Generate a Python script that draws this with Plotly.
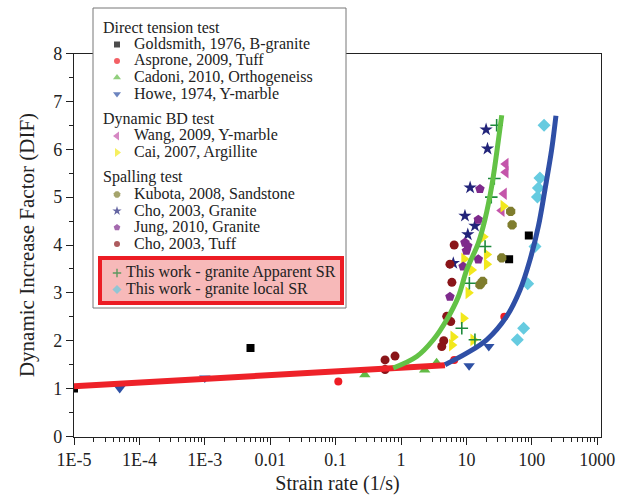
import plotly.graph_objects as go

# ---------------- data ----------------
goldsmith_x = [1e-5, 0.005, 45, 90]
goldsmith_y = [1.0, 1.85, 3.7, 4.2]

asprone_x = [0.11, 6.5, 38]
asprone_y = [1.15, 1.6, 2.5]

cadoni_x = [0.28, 2.3, 3.5]
cadoni_y = [1.29, 1.39, 1.54]

howe_x = [5e-5, 1e-3, 11, 22]
howe_y = [1.0, 1.22, 1.48, 1.88]

wang_x = [40, 40, 37.6, 34.7]
wang_y = [5.69, 5.52, 5.07, 4.72]

cai_x = [36.7, 18.1, 20.4, 20.4, 9.2, 12.0, 10.7, 9.0, 6.3, 6.0, 12.7]
cai_y = [4.81, 4.17, 3.80, 3.60, 3.71, 3.48, 3.0, 2.47, 2.08, 1.91, 2.02]

kubota_x = [47.5, 50, 34.7, 17.7, 16.1]
kubota_y = [4.70, 4.42, 3.73, 3.24, 3.17]

cho_granite_x = [20, 21, 11.4, 9.5, 13.5, 10.5, 6.3]
cho_granite_y = [6.41, 6.01, 5.20, 4.61, 4.40, 4.22, 3.62]

jung_x = [16.1, 15.2, 9.5, 10.5, 10.0, 15.2, 8.9, 5.6]
jung_y = [5.17, 4.53, 4.05, 3.98, 3.88, 3.70, 3.55, 2.92]

cho_tuff_x = [6.5, 5.6, 6.0, 5.0, 5.76, 4.5, 4.2, 0.57, 0.81, 0.57]
cho_tuff_y = [4.0, 3.60, 3.22, 2.51, 2.40, 2.0, 1.88, 1.6, 1.68, 1.40]

apparent_x = [29, 26.7, 24, 19.3, 11.1, 8.5, 13.5]
apparent_y = [6.50, 5.39, 5.0, 3.97, 3.2, 2.26, 2.02]

local_x = [154, 133, 126, 122, 112, 86.5, 75, 60]
local_y = [6.50, 5.40, 5.19, 5.0, 3.97, 3.19, 2.26, 2.02]

# fitted trend curves
red_fit_x = [1e-5, 4.7]
red_fit_y = [1.05, 1.49]
green_fit_x = [0.76, 1.74, 3.12, 5.0, 7.52, 10.1, 15.2, 19.2, 24.4, 29.0, 34.7]
green_fit_y = [1.43, 1.67, 2.02, 2.44, 2.92, 3.48, 4.04, 4.53, 5.23, 5.92, 6.71]
blue_fit_x = [4.71, 10.1, 20.4, 41.3, 66, 93.8, 126, 159, 201, 234]
blue_fit_y = [1.50, 1.74, 2.02, 2.51, 3.06, 3.69, 4.39, 5.16, 5.99, 6.70]

x_tick_vals = [1e-5, 1e-4, 1e-3, 0.01, 0.1, 1, 10, 100, 1000]
x_tick_text = ["1E-5", "1E-4", "1E-3", "0.01", "0.1", "1", "10", "100", "1000"]

x_title = "Strain rate (1/s)"
y_title = "Dynamic Increase Factor (DIF)"

legend_groups = [
    ("Direct tension test", ["Goldsmith, 1976, B-granite", "Asprone, 2009, Tuff",
                             "Cadoni, 2010, Orthogeneiss", "Howe, 1974, Y-marble"]),
    ("Dynamic BD test", ["Wang, 2009, Y-marble", "Cai, 2007, Argillite"]),
    ("Spalling test", ["Kubota, 2008, Sandstone", "Cho, 2003, Granite",
                       "Jung, 2010, Granite", "Cho, 2003, Tuff"]),
    (None, ["This work - granite Apparent SR", "This work - granite local SR"]),
]

# ---------------- styles ----------------
SERIF = "Liberation Serif"
series = [
    # name, x, y, symbol, size, color
    ("Goldsmith, 1976, B-granite", goldsmith_x, goldsmith_y, "square", 8, "#000000"),
    ("Asprone, 2009, Tuff", asprone_x, asprone_y, "circle", 8, "#ee1c24"),
    ("Cadoni, 2010, Orthogeneiss", cadoni_x, cadoni_y, "triangle-up", 10, "#62bb46"),
    ("Howe, 1974, Y-marble", howe_x, howe_y, "triangle-down", 10, "#2e50a4"),
    ("Wang, 2009, Y-marble", wang_x, wang_y, "triangle-left", 11, "#c455aa"),
    ("Cai, 2007, Argillite", cai_x, cai_y, "triangle-right", 11, "#f2e81c"),
    ("Kubota, 2008, Sandstone", kubota_x, kubota_y, "octagon", 10, "#7f7d2e"),
    ("Cho, 2003, Granite", cho_granite_x, cho_granite_y, "star", 10, "#22247a"),
    ("Jung, 2010, Granite", jung_x, jung_y, "pentagon", 10, "#7e2a8c"),
    ("Cho, 2003, Tuff", cho_tuff_x, cho_tuff_y, "circle", 9, "#8a1519"),
    ("This work - granite Apparent SR", apparent_x, apparent_y, "cross-thin", 9, "#1e8a3c"),
    ("This work - granite local SR", local_x, local_y, "diamond", 10, "#66cbe0"),
]

fig = go.Figure()

for name, xs, ys, sym, size, col in series:
    marker = dict(symbol=sym, size=size, color=col)
    if sym == "cross-thin":
        marker["line"] = dict(color=col, width=1.6)
    else:
        marker["line"] = dict(width=0)
    fig.add_trace(go.Scatter(x=xs, y=ys, mode="markers", name=name, marker=marker,
                             showlegend=False, xaxis="x", yaxis="y"))

fig.add_trace(go.Scatter(x=red_fit_x, y=red_fit_y, mode="lines",
                         line=dict(color="#ee2229", width=6), showlegend=False))
fig.add_trace(go.Scatter(x=green_fit_x, y=green_fit_y, mode="lines",
                         line=dict(color="#63c246", width=5, shape="spline"), showlegend=False))
fig.add_trace(go.Scatter(x=blue_fit_x, y=blue_fit_y, mode="lines",
                         line=dict(color="#2f4fa6", width=5, shape="spline"), showlegend=False))

# ---------------- hand-built legend (pixel overlay axes) ----------------
W, H = 633, 496
style_by_name = {s[0]: s for s in series}
leg_x0, leg_x1, leg_y0, leg_y1 = 93, 346, 8, 308
box_x0, box_x1, box_y0, box_y1 = 100, 342, 258, 303
step, gap = 16.5, 9
heading_x, sym_x, text_x = 101, 117, 132
sym_x_box, text_x_box = 117, 124

annotations = []
lk_x, lk_y, lk_sym, lk_size, lk_col = [], [], [], [], []
y = 27
for gi, (title, names) in enumerate(legend_groups):
    if title is not None:
        annotations.append(dict(x=heading_x, y=y, xref="x2", yref="y2", text=title,
                                showarrow=False, xanchor="left", yanchor="middle",
                                font=dict(family=SERIF, size=16, color="#222")))
    else:
        y += 3.5 - step
    for n in names:
        y += step
        _, _, _, sym, size, col = style_by_name[n]
        inbox = title is None
        lk_x.append(sym_x_box if inbox else sym_x)
        lk_y.append(y + 1)
        lk_sym.append(sym)
        lk_size.append(max(6, size - 3))
        lk_col.append(col)
        annotations.append(dict(x=text_x_box if inbox else text_x, y=y, xref="x2", yref="y2",
                                text=n, showarrow=False, xanchor="left", yanchor="middle",
                                font=dict(family=SERIF, size=16, color="#222")))
    y += step + gap

fig.add_trace(go.Scatter(x=lk_x, y=lk_y, mode="markers", xaxis="x2", yaxis="y2",
                         showlegend=False, hoverinfo="skip",
                         marker=dict(symbol=lk_sym, size=lk_size, color=lk_col,
                                     line=dict(color=lk_col, width=[1.4 if s == "cross-thin" else 0 for s in lk_sym]))))

shapes = [
    dict(type="rect", xref="x2", yref="y2", x0=leg_x0, x1=leg_x1, y0=leg_y0, y1=leg_y1,
         fillcolor="white", line=dict(color="#777777", width=1), layer="between"),
    dict(type="rect", xref="x2", yref="y2", x0=box_x0, x1=box_x1, y0=box_y0, y1=box_y1,
         fillcolor="#f7b9b9", line=dict(color="#ec1c24", width=4), layer="between"),
]

# ---------------- layout ----------------
x_minor = [k * 10.0 ** d for d in range(-5, 3) for k in range(2, 10)]
axis_col = "#222222"
fig.update_layout(
    template="none",
    width=W, height=H, margin=dict(l=0, r=0, t=0, b=0, pad=0, autoexpand=False),
    paper_bgcolor="white", plot_bgcolor="rgba(0,0,0,0)",
    showlegend=False,
    xaxis=dict(type="log", range=[-5, 3.058], domain=[74 / W, 601 / W], automargin=False,
               tickmode="array", tickvals=x_tick_vals, ticktext=x_tick_text,
               ticks="outside", ticklen=7, tickwidth=1.2, tickcolor=axis_col,
               showline=True, linecolor=axis_col, linewidth=1.3, mirror=True,
               showgrid=False, zeroline=False,
               tickfont=dict(family=SERIF, size=18, color="#222"),
               minor=dict(tickmode="array", tickvals=x_minor, ticks="outside",
                          ticklen=4, tickwidth=1, tickcolor=axis_col, showgrid=False),
               title=dict(text=x_title, font=dict(family=SERIF, size=20, color="#222"),
                          standoff=6),
               anchor="y"),
    yaxis=dict(range=[0, 8], domain=[1 - 436.5 / H, 1 - 53.5 / H], automargin=False,
               tickmode="linear", tick0=0, dtick=1,
               ticks="outside", ticklen=7, tickwidth=1.2, tickcolor=axis_col,
               showline=True, linecolor=axis_col, linewidth=1.3, mirror=True,
               showgrid=False, zeroline=False,
               tickfont=dict(family=SERIF, size=18, color="#222"),
               minor=dict(dtick=0.5, ticks="outside", ticklen=4, tickwidth=1,
                          tickcolor=axis_col, showgrid=False),
               title=dict(text=y_title, font=dict(family=SERIF, size=21, color="#222"),
                          standoff=12),
               anchor="x"),
    xaxis2=dict(domain=[0, 1], range=[0, W], visible=False, anchor="y2",
                fixedrange=True, automargin=False),
    yaxis2=dict(domain=[0, 1], range=[H, 0], visible=False, anchor="x2",
                fixedrange=True, automargin=False),
    shapes=shapes,
    annotations=annotations,
)

fig.write_html("out.html")
